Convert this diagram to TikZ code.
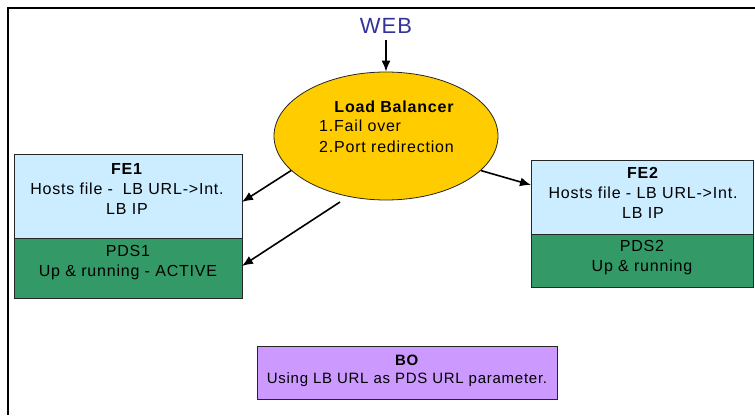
\documentclass[tikz,border=0pt]{standalone}
\usepackage{fontspec}
\setmainfont{Liberation Sans}[LetterSpace=5]
\usetikzlibrary{shapes.geometric,arrows.meta}
\definecolor{lbfill}{HTML}{FFCC00}
\definecolor{fefill}{HTML}{CCECFF}
\definecolor{pdsfill}{HTML}{339966}
\definecolor{bofill}{HTML}{CC99FF}
\definecolor{webblue}{HTML}{333399}
\begin{document}
\begin{tikzpicture}[x=1pt,y=-1pt,
  txt/.style={font=\fontsize{16}{20}\selectfont, align=center, inner sep=0pt, text=black},
  boxshape/.style={draw=black!85, line width=0.8pt, rectangle, inner sep=0pt},
  arr/.style={-{Latex[length=11pt,width=9pt]}, line width=1.6pt, black}]
\useasboundingbox (0,0) rectangle (755,415);
\fill[white] (0,0) rectangle (755,415);
% frame
\draw[line width=1.4pt] (755,8) -- (8,8) -- (8,415);

% load balancer
\node[ellipse, draw=black!85, line width=0.8pt, fill=lbfill, minimum width=224pt, minimum height=128pt, inner sep=0pt] (lb) at (386,136) {};
\node[txt, font=\fontsize{16}{20}\selectfont\bfseries] (lbt) at (394,107) {Load Balancer};
\node[txt, align=left, anchor=west, font=\fontsize{16}{21}\selectfont] (lbl) at (319,136.5) {1.Fail over\\2.Port redirection};

% web
\node[font=\fontsize{22}{24}\selectfont, text=webblue, inner sep=6pt] (web) at (386,26) {WEB};
\draw[arr] (web.south) -- (lb.north);

% FE1 / PDS1
\node[boxshape, fill=fefill, minimum width=228pt, minimum height=84pt] (fe1) at (128,196) {};
\node[boxshape, fill=pdsfill, minimum width=228pt, minimum height=60pt] (pds1) at (128,268) {};
\node[txt] (fe1t) at (127,189) {\textbf{FE1}\\Hosts file -\; LB URL->Int.\\LB IP};
\node[txt] (pds1t) at (128,262.5) {PDS1\\Up \& running - ACTIVE};

% FE2 / PDS2
\node[boxshape, fill=fefill, minimum width=222pt, minimum height=74pt] (fe2) at (642,197) {};
\node[boxshape, fill=pdsfill, minimum width=222pt, minimum height=53pt] (pds2) at (642,260.5) {};
\node[txt] (fe2t) at (643,193) {\textbf{FE2}\\Hosts file - LB URL->Int.\\LB IP};
\node[txt] (pds2t) at (642,258) {PDS2\\Up \& running};

% BO
\node[boxshape, fill=bofill, minimum width=300pt, minimum height=53pt] (bo) at (407,372.5) {};
\node[txt, font=\fontsize{15}{18}\selectfont] (bot) at (407,371) {\textbf{BO}\\Using LB URL as PDS URL parameter.};

% connectors
\coordinate (a1) at (242,202);
\coordinate (s2) at (340,202);
\coordinate (a2) at (242,266);
\coordinate (a3) at (531,185);
\draw[arr] (lb.200) -- (a1);
\draw[arr] (s2) -- (a2);
\draw[arr] (lb.340.7) -- (a3);
\end{tikzpicture}
\end{document}
